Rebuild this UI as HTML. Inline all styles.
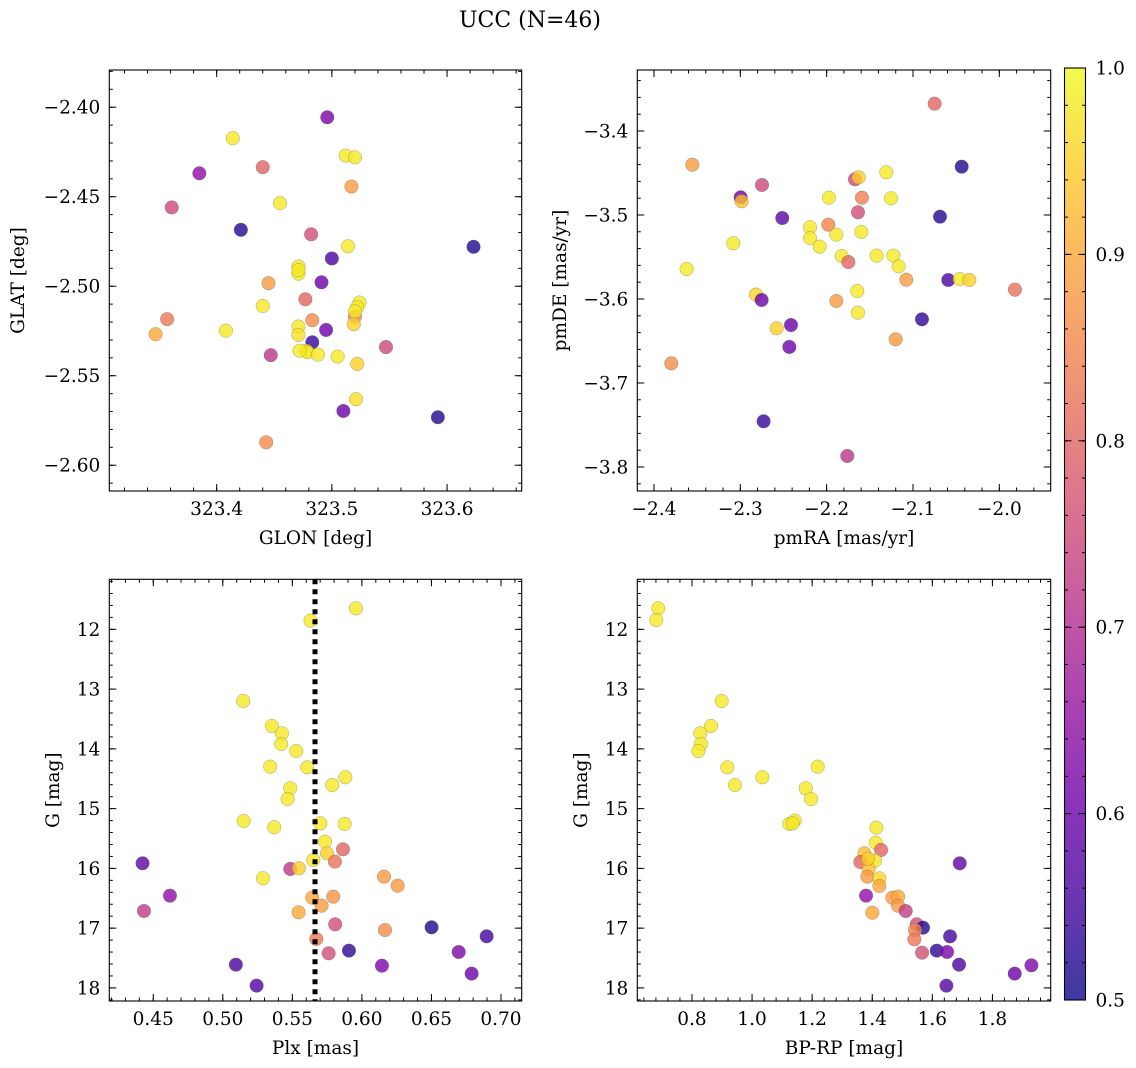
<!DOCTYPE html>
<html><head><meta charset="utf-8">
<style>
html,body{margin:0;padding:0;background:#fff;}
svg{display:block;font-family:"DejaVu Serif","Liberation Serif",serif;}
</style></head>
<body>
<svg id="fig" width="1136" height="1068" viewBox="0 0 1136 1068" xmlns="http://www.w3.org/2000/svg">
<defs>
<linearGradient id="plasma" x1="0" y1="1" x2="0" y2="0">
<stop offset="0" stop-color="#0d0887"/><stop offset="0.1" stop-color="#41049d"/><stop offset="0.2" stop-color="#6a00a8"/><stop offset="0.3" stop-color="#8f0da4"/><stop offset="0.4" stop-color="#b12a90"/><stop offset="0.5" stop-color="#cc4778"/><stop offset="0.6" stop-color="#e16462"/><stop offset="0.7" stop-color="#f2844b"/><stop offset="0.8" stop-color="#fca636"/><stop offset="0.9" stop-color="#fcce25"/><stop offset="1" stop-color="#f0f921"/>
</linearGradient>
</defs>
<text x="530" y="27" font-size="22" text-anchor="middle">UCC (N=46)</text>
</svg>
<script>
// ---- data: top-left (GLON / GLAT)
const glonTL = [323.496,323.414,323.512,323.520,323.440,323.385,323.517,323.455,323.361,323.421,323.482,323.514,323.623,323.500,323.471,323.471,323.491,323.445,323.477,323.524,323.522,323.440,323.520,323.357,323.483,323.519,323.471,323.495,323.408,323.347,323.471,323.483,323.547,323.478,323.479,323.447,323.488,323.505,323.522,323.521,323.510,323.592,323.443,323.471,323.472,323.520];
const glatTL = [-2.4056,-2.4173,-2.427,-2.428,-2.4335,-2.4369,-2.4443,-2.4536,-2.456,-2.4685,-2.471,-2.4777,-2.478,-2.4845,-2.489,-2.493,-2.4978,-2.4983,-2.5073,-2.5091,-2.5117,-2.511,-2.517,-2.5184,-2.519,-2.5212,-2.5225,-2.5244,-2.5248,-2.5268,-2.5272,-2.5313,-2.534,-2.5361,-2.5369,-2.5385,-2.5382,-2.5393,-2.5434,-2.5631,-2.5697,-2.5732,-2.5872,-2.491,-2.536,-2.514];
const probTL = [0.62,0.98,0.98,0.98,0.8,0.65,0.88,0.98,0.75,0.52,0.76,0.98,0.52,0.56,0.98,0.98,0.6,0.88,0.8,0.98,0.98,0.98,0.85,0.83,0.86,0.95,0.98,0.6,0.98,0.9,0.97,0.54,0.75,0.98,0.98,0.72,0.98,0.98,0.95,0.97,0.6,0.52,0.86,0.98,0.98,0.98];
// ---- data: top-right (pmRA / pmDE)
const pmraTR = [-2.0749,-2.3556,-2.0436,-2.1309,-2.1672,-2.1629,-2.2749,-2.2996,-2.2985,-2.1973,-2.1591,-2.1255,-2.1637,-2.2514,-2.0687,-2.1981,-2.2193,-2.1888,-2.1598,-2.2193,-2.3081,-2.2081,-2.1826,-2.1749,-2.1421,-2.1228,-2.1166,-2.3622,-2.1077,-2.0591,-2.0459,-2.0347,-1.9819,-2.1645,-2.2819,-2.2753,-2.1888,-2.1637,-2.0896,-2.2413,-2.2579,-2.1201,-2.2432,-2.3799,-2.273,-2.1761];
const pmdeTR = [-3.3675,-3.4401,-3.4425,-3.4492,-3.4575,-3.4552,-3.4643,-3.479,-3.4837,-3.4794,-3.4794,-3.4802,-3.4968,-3.5036,-3.502,-3.5115,-3.5147,-3.5234,-3.5202,-3.5274,-3.5337,-3.5377,-3.5488,-3.556,-3.5484,-3.5484,-3.5611,-3.5643,-3.577,-3.5774,-3.5762,-3.5774,-3.5889,-3.5905,-3.5948,-3.6012,-3.6024,-3.6163,-3.6242,-3.631,-3.6349,-3.648,-3.6571,-3.6766,-3.7456,-3.7869];
const probTR = [0.8,0.88,0.52,0.98,0.75,0.95,0.75,0.6,0.93,0.98,0.84,0.98,0.76,0.58,0.52,0.85,0.98,0.98,0.98,0.98,0.98,0.98,0.98,0.8,0.98,0.98,0.98,0.98,0.88,0.56,0.98,0.95,0.82,0.98,0.96,0.6,0.88,0.98,0.53,0.6,0.95,0.88,0.6,0.86,0.54,0.72];
// ---- data: bottom-left (Plx / G)
const plxBL = [0.5957,0.5631,0.5147,0.5353,0.5425,0.5420,0.5528,0.5341,0.5607,0.5881,0.5787,0.5485,0.5466,0.5150,0.5370,0.5701,0.5876,0.5735,0.5749,0.5864,0.5806,0.5651,0.4423,0.5485,0.5547,0.5289,0.6159,0.6257,0.4620,0.5643,0.5794,0.5710,0.4433,0.5545,0.5808,0.6501,0.6166,0.5672,0.6897,0.5907,0.5761,0.6696,0.5094,0.6144,0.6789,0.5243];
const gBL = [11.649,11.855,13.199,13.617,13.74,13.918,14.036,14.298,14.309,14.476,14.605,14.66,14.839,15.207,15.313,15.246,15.257,15.553,15.748,15.681,15.887,15.859,15.915,16.01,15.999,16.166,16.138,16.289,16.456,16.49,16.473,16.624,16.713,16.735,16.936,16.986,17.031,17.181,17.137,17.376,17.421,17.399,17.611,17.628,17.761,17.962];
const probBL = [0.98,0.98,0.98,0.98,0.98,0.98,0.98,0.98,0.98,0.98,0.98,0.98,0.98,0.98,0.98,0.98,0.98,0.98,0.95,0.8,0.82,0.98,0.58,0.72,0.95,0.98,0.88,0.88,0.65,0.9,0.87,0.88,0.73,0.9,0.76,0.52,0.86,0.83,0.55,0.53,0.76,0.62,0.56,0.62,0.6,0.57];
const plxMedian = 0.5663;
// ---- data: bottom-right (BP-RP / G)
const bprpBR = [0.6879,0.6812,0.8988,0.8633,0.8277,0.83,0.8211,0.9176,1.2184,1.0342,0.9432,1.1785,1.1962,1.1241,1.1418,1.1352,1.4138,1.4115,1.4293,1.3738,1.3605,1.4093,1.3882,1.6912,1.3838,1.4237,1.4237,1.3794,1.4670,1.4859,1.4859,1.5114,1.4004,1.5480,1.5691,1.5425,1.5403,1.6590,1.6147,1.5658,1.6491,1.6890,1.9298,1.8743,1.6468,1.386];
const gBR = [11.649,11.844,13.199,13.617,13.74,13.918,14.036,14.309,14.298,14.476,14.605,14.66,14.839,15.257,15.201,15.246,15.318,15.569,15.692,15.748,15.893,15.871,16.004,15.915,16.138,16.166,16.294,16.456,16.49,16.473,16.624,16.713,16.741,16.936,16.992,17.031,17.187,17.137,17.376,17.41,17.399,17.611,17.622,17.761,17.962,15.837];
const probBR = [0.98,0.98,0.98,0.98,0.98,0.98,0.98,0.98,0.98,0.98,0.98,0.98,0.98,0.98,0.98,0.98,0.98,0.98,0.8,0.93,0.8,0.98,0.93,0.58,0.88,0.96,0.9,0.65,0.88,0.9,0.88,0.73,0.9,0.76,0.52,0.85,0.83,0.55,0.53,0.76,0.62,0.56,0.62,0.6,0.57,0.95];
// ---- tick values
const ticksGLON = [323.4,323.5,323.6];
const ticksGLAT = [-2.40,-2.45,-2.50,-2.55,-2.60];
const ticksPMRA = [-2.4,-2.3,-2.2,-2.1,-2.0];
const ticksPMDE = [-3.4,-3.5,-3.6,-3.7,-3.8];
const ticksPLX = [0.45,0.50,0.55,0.60,0.65,0.70];
const ticksG = [12,13,14,15,16,17,18];
const ticksBPRP = [0.8,1.0,1.2,1.4,1.6,1.8];
const ticksCB = [0.5,0.6,0.7,0.8,0.9,1.0];

const NS = "http://www.w3.org/2000/svg";
const svg = document.getElementById('fig');
const FS = 18.5;
function mk(tag, attrs, parent){ const e=document.createElementNS(NS,tag); for(const k in attrs) e.setAttribute(k,attrs[k]); (parent||svg).appendChild(e); return e; }

const stops=[[0,13,8,135],[0.1,65,4,157],[0.2,106,0,168],[0.3,143,13,164],[0.4,177,42,144],[0.5,204,71,120],[0.6,225,100,98],[0.7,242,132,75],[0.8,252,166,54],[0.9,252,206,37],[1,240,249,33]];
function plasma(v){ const t=Math.max(0,Math.min(1,(v-0.5)/0.5)); for(let i=1;i<stops.length;i++){ if(t<=stops[i][0]){ const a=stops[i-1],b=stops[i],f=(t-a[0])/(b[0]-a[0]); return `rgb(${Math.round(a[1]+f*(b[1]-a[1]))},${Math.round(a[2]+f*(b[2]-a[2]))},${Math.round(a[3]+f*(b[3]-a[3]))})`; } } return 'rgb(240,249,33)'; }

function panel(cfg){
  const {name,L,R,T,B,xmin,xmax,ymin,ymax,invY,xs,ys,cs,xt,yt,xminor,yminor,xdec,ydec,xlabel,ylabel} = cfg;
  const g = mk('g',{});
  
  
  const sx = v => L + (v-xmin)/(xmax-xmin)*(R-L);
  const sy = v => invY ? T + (v-ymin)/(ymax-ymin)*(B-T) : B - (v-ymin)/(ymax-ymin)*(B-T);
  const pts = mk('g',{},g);
  
  
  for(let i=0;i<xs.length;i++){
    const c = mk('circle',{cx:sx(xs[i]),cy:sy(ys[i]),r:6.8,fill:plasma(cs[i]),'fill-opacity':0.8,stroke:'#555','stroke-opacity':0.5,'stroke-width':0.5},pts);
    
    
  }
  if(cfg.extra) cfg.extra(g,sx,sy);
  const fr = mk('rect',{x:L,y:T,width:R-L,height:B-T,fill:'none',stroke:'#000','stroke-width':1.1},g);
  
  
  const tk = mk('g',{stroke:'#000','stroke-width':1},g);
  const x0=Math.ceil(xmin/xminor-1e-6), x1=Math.floor(xmax/xminor+1e-6);
  for(let k=x0;k<=x1;k++){ const x=sx(k*xminor); mk('line',{x1:x,y1:B,x2:x,y2:B-3.5},tk); mk('line',{x1:x,y1:T,x2:x,y2:T+3.5},tk); }
  const lo=Math.min(ymin,ymax), hi=Math.max(ymin,ymax);
  const y0=Math.ceil(lo/yminor-1e-6), y1=Math.floor(hi/yminor+1e-6);
  for(let k=y0;k<=y1;k++){ const y=sy(k*yminor); mk('line',{x1:L,y1:y,x2:L+3.5,y2:y},tk); mk('line',{x1:R,y1:y,x2:R-3.5,y2:y},tk); }
  const fmt=(v,d)=> (v<0?'\u2212':'')+Math.abs(v).toFixed(d);
  for(const v of xt){ const x=sx(v); mk('line',{x1:x,y1:B,x2:x,y2:B-7},tk); mk('line',{x1:x,y1:T,x2:x,y2:T+7},tk);
    const t=mk('text',{x:x,y:B+24,'font-size':FS,'text-anchor':'middle'},g); t.textContent=fmt(v,xdec);
    
     }
  for(const v of yt){ const y=sy(v); mk('line',{x1:L,y1:y,x2:L+7,y2:y},tk); mk('line',{x1:R,y1:y,x2:R-7,y2:y},tk);
    const t=mk('text',{x:L-9,y:y+6.5,'font-size':FS,'text-anchor':'end'},g); t.textContent=fmt(v,ydec);
    
     }
  const xl=mk('text',{x:(L+R)/2,y:B+53,'font-size':FS,'text-anchor':'middle'},g); xl.textContent=xlabel;
  
  
  const yx=cfg.ylx, yc=(T+B)/2;
  const yl=mk('text',{x:yx,y:yc,'font-size':FS,'text-anchor':'middle',transform:`rotate(-90 ${yx} ${yc})`},g); yl.textContent=ylabel;
  
  
}

panel({name:'glon-glat-panel',L:109.3,R:521.7,T:70,B:491,xmin:323.3068,xmax:323.6648,ymin:-2.6144,ymax:-2.3792,invY:false,
  xs:glonTL,ys:glatTL,cs:probTL,xt:ticksGLON,yt:ticksGLAT,xminor:0.02,yminor:0.01,xdec:1,ydec:2,xlabel:'GLON [deg]',ylabel:'GLAT [deg]',ylx:24});
panel({name:'pm-panel',L:637.3,R:1050.7,T:70,B:491,xmin:-2.4193,xmax:-1.9405,ymin:-3.8286,ymax:-3.3274,invY:false,
  xs:pmraTR,ys:pmdeTR,cs:probTR,xt:ticksPMRA,yt:ticksPMDE,xminor:0.02,yminor:0.02,xdec:1,ydec:1,xlabel:'pmRA [mas/yr]',ylabel:'pmDE [mas/yr]',ylx:566});
panel({name:'plx-g-panel',L:109.3,R:521.7,T:579.3,B:1001,xmin:0.4184,xmax:0.7149,ymin:11.163,ymax:18.219,invY:true,
  xs:plxBL,ys:gBL,cs:probBL,xt:ticksPLX,yt:ticksG,xminor:0.01,yminor:0.2,xdec:2,ydec:0,xlabel:'Plx [mas]',ylabel:'G [mag]',ylx:59,
  extra:(g,sx,sy)=>{ const x=sx(plxMedian); const l=mk('line',{x1:x,y1:579.3,x2:x,y2:1001,stroke:'#000','stroke-width':5,'stroke-dasharray':'5 5'},g);
    
     }});
panel({name:'cmd-panel',L:637.3,R:1050.7,T:579.3,B:1001,xmin:0.618,xmax:1.994,ymin:11.163,ymax:18.219,invY:true,
  xs:bprpBR,ys:gBR,cs:probBR,xt:ticksBPRP,yt:ticksG,xminor:0.04,yminor:0.2,xdec:1,ydec:0,xlabel:'BP-RP [mag]',ylabel:'G [mag]',ylx:587});

// colorbar
const cb = mk('g',{});


const cT=68, cB=1000, cL=1064.5, cR=1085.5;
mk('rect',{x:cL,y:cT,width:cR-cL,height:cB-cT,fill:'url(#plasma)','fill-opacity':0.8},cb);
mk('rect',{x:cL,y:cT,width:cR-cL,height:cB-cT,fill:'none',stroke:'#000','stroke-width':1.1},cb);
const cy = v => cB - (v-0.5)/0.5*(cB-cT);
for(let k=25;k<=50;k++){ const y=cy(k*0.02); mk('line',{x1:cR,y1:y,x2:cR-3.5,y2:y,stroke:'#000'},cb); mk('line',{x1:cL,y1:y,x2:cL+3.5,y2:y,stroke:'#000'},cb); }
for(const v of ticksCB){ const y=cy(v); mk('line',{x1:cR,y1:y,x2:cR-7,y2:y,stroke:'#000'},cb); mk('line',{x1:cL,y1:y,x2:cL+7,y2:y,stroke:'#000'},cb);
  const t=mk('text',{x:cR+10,y:y+6.5,'font-size':FS},cb); t.textContent=v.toFixed(1);
  
   }
</script>
</body></html>
